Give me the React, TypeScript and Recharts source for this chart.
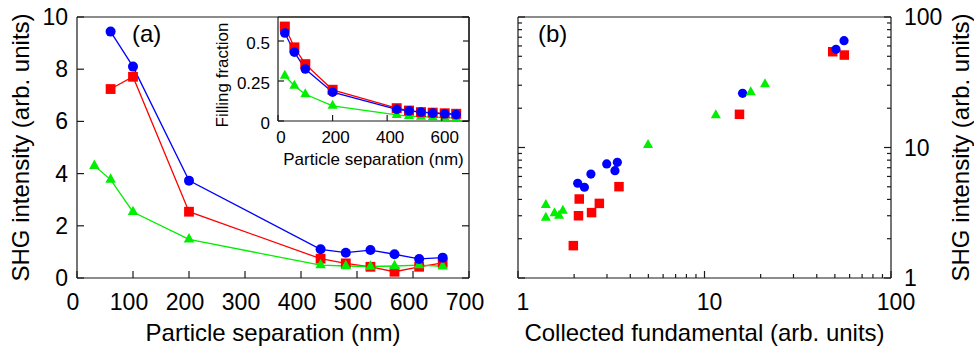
import React from 'react';
import { LineChart, Line, ScatterChart, Scatter, XAxis, YAxis } from 'recharts';

const FONT = '"Liberation Sans", Arial, Helvetica, sans-serif';
const INK = '#1a1a1a';
const BLUE = '#0000ff';
const RED = '#ff0000';
const GREEN = '#00ee00';

// ---- (a) SHG intensity vs particle separation ----
const sepMain = [60, 100, 200, 435, 480, 524, 567, 611, 653];
const sepGreen = [31, 60, 100, 200, 435, 480, 524, 567, 611, 653];
const shgBlue = [9.44, 8.1, 3.73, 1.1, 0.97, 1.07, 0.91, 0.73, 0.78];
const shgRed = [7.24, 7.71, 2.54, 0.74, 0.56, 0.43, 0.24, 0.43, 0.58];
const shgGreen = [4.3, 3.77, 2.53, 1.48, 0.49, 0.46, 0.44, 0.46, 0.49, 0.45];

// ---- inset: filling fraction vs particle separation ----
const sepInset = [25, 60, 100, 200, 435, 480, 524, 567, 611, 653];
const fillRed = [0.59, 0.46, 0.355, 0.195, 0.08, 0.065, 0.055, 0.052, 0.048, 0.045];
const fillBlue = [0.55, 0.43, 0.325, 0.18, 0.073, 0.064, 0.056, 0.049, 0.045, 0.04];
const fillGreen = [0.283, 0.22, 0.167, 0.095, 0.038, 0.031, 0.027, 0.024, 0.021, 0.019];

// ---- (b) SHG intensity vs collected fundamental (log-log) ----
const fundBlue = [2.09, 2.27, 2.46, 2.99, 3.31, 3.41, 16.0, 50.7, 56.0];
const shgLogBlue = [5.32, 4.96, 6.26, 7.48, 6.64, 7.7, 26.0, 56.5, 65.9];
const fundRed = [1.98, 2.11, 2.13, 2.48, 2.73, 3.48, 15.4, 48.7, 56.2];
const shgLogRed = [1.77, 3.0, 4.03, 3.17, 3.73, 5.01, 17.96, 54.2, 51.1];
const fundGreen = [1.41, 1.41, 1.57, 1.66, 1.74, 4.98, 11.5, 17.7, 21.1];
const shgLogGreen = [3.62, 2.9, 3.13, 3.0, 3.28, 10.45, 17.7, 26.5, 30.5];

// ---- tick values ----
const sepTicks = [0, 100, 200, 300, 400, 500, 600, 700];
const shgTicks = [0, 2, 4, 6, 8, 10];
const insetSepTicks = [0, 200, 400, 600];
const insetFillTicks = [0, 0.25, 0.5];
const logTicks = [1, 2, 3, 4, 5, 6, 7, 8, 9, 10, 20, 30, 40, 50, 60, 70, 80, 90, 100];
const logLabels = [1, 10, 100];

const zip = (xs: number[], ys: number[]) => xs.map((x, i) => ({ x, y: ys[i] }));

// ---- markers ----
const circle = (r: number, fill: string) => (p: any) =>
  p.cx == null ? <g key={p.index} /> : <circle key={p.index} cx={p.cx} cy={p.cy} r={r} fill={fill} />;
const square = (s: number, fill: string) => (p: any) =>
  p.cx == null ? <g key={p.index} /> : <rect key={p.index} x={p.cx - s / 2} y={p.cy - s / 2} width={s} height={s} fill={fill} />;
const triangle = (w: number, fill: string) => (p: any) => {
  if (p.cx == null) return <g key={p.index} />;
  const h = w * 0.9;
  const pts = `${p.cx},${p.cy - (2 * h) / 3} ${p.cx - w / 2},${p.cy + h / 3} ${p.cx + w / 2},${p.cy + h / 3}`;
  return <polygon key={p.index} points={pts} fill={fill} />;
};

// ---- inward tick marks with optional labels ----
type Side = 'bottom' | 'top' | 'left' | 'right';
interface TickOpts {
  side: Side;
  len: (v: number) => number;
  label?: (v: number) => string | null;
  fontSize?: number;
  offX?: number;
  offY?: number;
  anchor?: 'start' | 'middle' | 'end';
}
const makeTick = (o: TickOpts) => (props: any) => {
  const { x, y, payload } = props;
  const v = payload.value as number;
  const L = o.len(v);
  let x2 = x;
  let y2 = y;
  if (o.side === 'bottom') y2 = y - L;
  else if (o.side === 'top') y2 = y + L;
  else if (o.side === 'left') x2 = x + L;
  else x2 = x - L;
  const text = o.label ? o.label(v) : null;
  return (
    <g>
      {L > 0 && <line x1={x} y1={y} x2={x2} y2={y2} stroke={INK} strokeWidth={1.2} />}
      {text != null && (
        <text
          x={x + (o.offX || 0)}
          y={y + (o.offY || 0)}
          textAnchor={o.anchor || 'middle'}
          fontSize={o.fontSize}
          fontFamily={FONT}
          fill="#000"
        >
          {text}
        </text>
      )}
    </g>
  );
};

const hTitle = (text: string, size: number, dx: number, dy: number, anchor: 'start' | 'middle' = 'middle') => ({
  content: (props: any) => {
    const vb = props.viewBox || {};
    const x = anchor === 'middle' ? vb.x + vb.width / 2 + dx : vb.x + dx;
    return (
      <text x={x} y={vb.y + dy} textAnchor={anchor} fontSize={size} fontFamily={FONT} fill="#000">
        {text}
      </text>
    );
  },
});
const vTitle = (text: string, size: number, dx: number, dy: number) => ({
  content: (props: any) => {
    const vb = props.viewBox || {};
    const x = vb.x + dx;
    const y = vb.y + vb.height / 2 + dy;
    return (
      <text x={x} y={y} transform={`rotate(-90 ${x} ${y})`} textAnchor="middle" fontSize={size} fontFamily={FONT} fill="#000">
        {text}
      </text>
    );
  },
});

const axisLine = { stroke: INK, strokeWidth: 1.2 };
const fmt = (v: number) => String(v);
const logMajor = (v: number) => (logLabels.includes(v) ? 7 : 4);
const logLabel = (v: number) => (logLabels.includes(v) ? String(v) : null);

const blueData = zip(sepMain, shgBlue);
const redData = zip(sepMain, shgRed);
const greenData = zip(sepGreen, shgGreen);
const insetRed = zip(sepInset, fillRed);
const insetBlue = zip(sepInset, fillBlue);
const insetGreen = zip(sepInset, fillGreen);
const scatBlue = zip(fundBlue, shgLogBlue);
const scatRed = zip(fundRed, shgLogRed);
const scatGreen = zip(fundGreen, shgLogGreen);

const common = { tickSize: 0, tickMargin: 0, interval: 0 as const, axisLine };

export default function App() {
  return (
    <div style={{ position: 'absolute', left: 0, top: 0, width: 974, height: 349, background: '#fff' }}>
      {/* panel (a) */}
      <div style={{ position: 'absolute', left: 0, top: 0 }}>
        <LineChart width={490} height={349} margin={{ top: 0, right: 0, bottom: 0, left: 0 }}>
          <XAxis
            xAxisId="b"
            dataKey="x"
            type="number"
            domain={[0, 700]}
            allowDataOverflow
            ticks={sepTicks}
            height={71}
            {...common}
            tick={makeTick({ side: 'bottom', len: () => 7, label: fmt, fontSize: 23, offX: -4, offY: 32 })}
            label={hTitle('Particle separation (nm)', 24, 0, 63)}
          />
          <XAxis
            xAxisId="t"
            orientation="top"
            type="number"
            domain={[0, 700]}
            allowDataOverflow
            ticks={sepTicks}
            height={17}
            {...common}
            tick={makeTick({ side: 'top', len: () => 7 })}
            label={hTitle('(a)', 24, 55, 42, 'start')}
          />
          <YAxis
            yAxisId="l"
            type="number"
            domain={[0, 10]}
            allowDataOverflow
            ticks={shgTicks}
            width={77}
            {...common}
            tick={makeTick({ side: 'left', len: () => 7, label: fmt, fontSize: 23, offX: -9, offY: 8, anchor: 'end' })}
            label={vTitle('SHG intensity (arb. units)', 24, 29, 0)}
          />
          <YAxis
            yAxisId="r"
            orientation="right"
            type="number"
            domain={[0, 10]}
            allowDataOverflow
            ticks={shgTicks}
            width={21}
            {...common}
            tick={makeTick({ side: 'right', len: () => 7 })}
          />
          <Line xAxisId="b" yAxisId="l" data={redData} dataKey="y" stroke={RED} strokeWidth={1.3} dot={square(9.8, RED)} isAnimationActive={false} />
          <Line xAxisId="b" yAxisId="l" data={greenData} dataKey="y" stroke={GREEN} strokeWidth={1.3} dot={triangle(10.5, GREEN)} isAnimationActive={false} />
          <Line xAxisId="b" yAxisId="l" data={blueData} dataKey="y" stroke={BLUE} strokeWidth={1.3} dot={circle(5, BLUE)} isAnimationActive={false} />
        </LineChart>
      </div>

      {/* inset: filling fraction */}
      <div style={{ position: 'absolute', left: 200, top: 0 }}>
        <LineChart width={280} height={180} margin={{ top: 0, right: 0, bottom: 0, left: 0 }}>
          <XAxis
            xAxisId="b"
            dataKey="x"
            type="number"
            domain={[0, 700]}
            allowDataOverflow
            ticks={insetSepTicks}
            height={59}
            {...common}
            tick={makeTick({ side: 'bottom', len: () => 6, label: fmt, fontSize: 17, offX: 3, offY: 22 })}
            label={hTitle('Particle separation (nm)', 17, 0, 44)}
          />
          <XAxis
            xAxisId="t"
            orientation="top"
            type="number"
            domain={[0, 700]}
            allowDataOverflow
            ticks={insetSepTicks}
            height={17}
            {...common}
            tick={makeTick({ side: 'top', len: () => 6 })}
          />
          <YAxis
            yAxisId="l"
            type="number"
            domain={[0, 0.65]}
            allowDataOverflow
            ticks={insetFillTicks}
            width={78}
            {...common}
            tick={makeTick({ side: 'left', len: () => 6, label: fmt, fontSize: 17, offX: -8, offY: 8, anchor: 'end' })}
            label={vTitle('Filling fraction', 17, 27.5, 6)}
          />
          <YAxis
            yAxisId="r"
            orientation="right"
            type="number"
            domain={[0, 0.65]}
            allowDataOverflow
            ticks={insetFillTicks}
            width={11}
            {...common}
            tick={makeTick({ side: 'right', len: () => 6 })}
          />
          <Line xAxisId="b" yAxisId="l" data={insetGreen} dataKey="y" stroke={GREEN} strokeWidth={1.3} dot={triangle(10, GREEN)} isAnimationActive={false} />
          <Line xAxisId="b" yAxisId="l" data={insetRed} dataKey="y" stroke={RED} strokeWidth={1.3} dot={square(10, RED)} isAnimationActive={false} />
          <Line xAxisId="b" yAxisId="l" data={insetBlue} dataKey="y" stroke={BLUE} strokeWidth={1.3} dot={circle(4.8, BLUE)} isAnimationActive={false} />
        </LineChart>
      </div>

      {/* panel (b) */}
      <div style={{ position: 'absolute', left: 490, top: 0 }}>
        <ScatterChart width={484} height={349} margin={{ top: 0, right: 0, bottom: 0, left: 0 }}>
          <XAxis
            xAxisId="b"
            dataKey="x"
            type="number"
            scale="log"
            domain={[1, 100]}
            allowDataOverflow
            ticks={logTicks}
            height={71}
            {...common}
            tick={makeTick({ side: 'bottom', len: logMajor, label: logLabel, fontSize: 23, offX: 5, offY: 32 })}
            label={hTitle('Collected fundamental (arb. units)', 24, 0, 63)}
          />
          <XAxis
            xAxisId="t"
            orientation="top"
            type="number"
            scale="log"
            domain={[1, 100]}
            allowDataOverflow
            ticks={logTicks}
            height={17}
            {...common}
            tick={makeTick({ side: 'top', len: logMajor })}
            label={hTitle('(b)', 24, 20, 42, 'start')}
          />
          <YAxis
            yAxisId="l"
            dataKey="y"
            type="number"
            scale="log"
            domain={[1, 100]}
            allowDataOverflow
            ticks={logTicks}
            width={28}
            {...common}
            tick={makeTick({ side: 'left', len: logMajor })}
          />
          <YAxis
            yAxisId="r"
            orientation="right"
            type="number"
            scale="log"
            domain={[1, 100]}
            allowDataOverflow
            ticks={logTicks}
            width={83}
            {...common}
            tick={makeTick({ side: 'right', len: logMajor, label: logLabel, fontSize: 23, offX: 13, offY: 8, anchor: 'start' })}
            label={vTitle('SHG intensity (arb. units)', 24, 78, 0)}
          />
          <Scatter xAxisId="b" yAxisId="l" data={scatRed} shape={square(9.5, RED)} isAnimationActive={false} />
          <Scatter xAxisId="b" yAxisId="l" data={scatBlue} shape={circle(4.6, BLUE)} isAnimationActive={false} />
          <Scatter xAxisId="b" yAxisId="l" data={scatGreen} shape={triangle(10, GREEN)} isAnimationActive={false} />
        </ScatterChart>
      </div>
    </div>
  );
}
